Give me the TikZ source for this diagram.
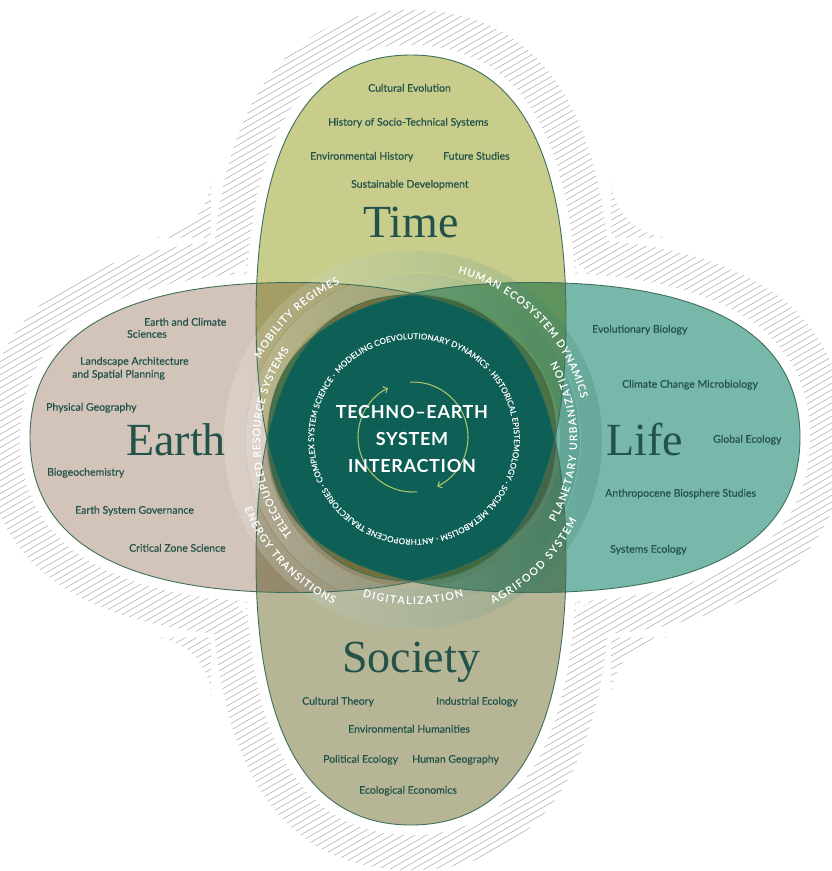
\documentclass[tikz,border=0pt]{standalone}
\usepackage{fontspec}
\setmainfont{Lato}
\newfontfamily\lblfont{Lato}[FakeBold=0.5]
\newfontfamily\ringfam{Lato}[FakeBold=0.4]
\newfontfamily\bigserif{Liberation Serif}
\usetikzlibrary{decorations.text,arrows.meta}
\definecolor{timec}{HTML}{C8CD8C}
\definecolor{earthc}{HTML}{D2C4B9}
\definecolor{lifec}{HTML}{78B8AA}
\definecolor{socc}{HTML}{B6B696}
\definecolor{corec}{HTML}{0E5F56}
\definecolor{linec}{HTML}{3F6F5A}
\definecolor{txtc}{HTML}{22524A}
\definecolor{hatchc}{HTML}{A8A8A8}
\definecolor{ringg}{HTML}{1E6B5A}
\definecolor{arrowc}{HTML}{A9C36A}
% superellipse-like closed curve: cx, cy, a, b, k (counterclockwise)
\newcommand\sqe[5]{({(#1)+(#3)},{#2}) .. controls ({(#1)+(#3)},{(#2)+(#5)*(#4)}) and ({(#1)+(#5)*(#3)},{(#2)+(#4)}) .. ({#1},{(#2)+(#4)}) .. controls ({(#1)-(#5)*(#3)},{(#2)+(#4)}) and ({(#1)-(#3)},{(#2)+(#5)*(#4)}) .. ({(#1)-(#3)},{#2}) .. controls ({(#1)-(#3)},{(#2)-(#5)*(#4)}) and ({(#1)-(#5)*(#3)},{(#2)-(#4)}) .. ({#1},{(#2)-(#4)}) .. controls ({(#1)+(#5)*(#3)},{(#2)-(#4)}) and ({(#1)+(#3)},{(#2)-(#5)*(#4)}) .. ({(#1)+(#3)},{#2}) -- cycle}
\newcommand\fillTL[3]{({#1},{#2}) -- ({#1},{(#2)+(#3)}) .. controls ({#1},{(#2)+0.448*(#3)}) and ({(#1)-0.448*(#3)},{#2}) .. ({(#1)-(#3)},{#2}) -- cycle}
\newcommand\fillTR[3]{({#1},{#2}) -- ({(#1)+(#3)},{#2}) .. controls ({(#1)+0.448*(#3)},{#2}) and ({#1},{(#2)+0.448*(#3)}) .. ({#1},{(#2)+(#3)}) -- cycle}
\newcommand\fillBL[3]{({#1},{#2}) -- ({(#1)-(#3)},{#2}) .. controls ({(#1)-0.448*(#3)},{#2}) and ({#1},{(#2)-0.448*(#3)}) .. ({#1},{(#2)-(#3)}) -- cycle}
\newcommand\fillBR[3]{({#1},{#2}) -- ({#1},{(#2)-(#3)}) .. controls ({#1},{(#2)-0.448*(#3)}) and ({(#1)+0.448*(#3)},{#2}) .. ({(#1)+(#3)},{#2}) -- cycle}
\newcommand\kk{0.66}
\newcommand\timeP[1]{\sqe{411}{-318}{155+#1}{263+#1}{\kk}}
\newcommand\socP[1]{\sqe{411}{-560}{155+#1}{265+#1}{\kk}}
\newcommand\earthP[1]{\sqe{293}{-437.5}{263+#1}{155+#1}{\kk}}
\newcommand\lifeP[1]{\sqe{534}{-437.5}{266+#1}{155+#1}{\kk}}
\newcommand\ringfont{\ringfam\fontsize{10.4}{12}\selectfont}
\newcommand\innerfont{\ringfam\fontsize{8}{10}\selectfont}
\tikzset{
  lbl/.style={font=\lblfont\fontsize{10.5}{12}\selectfont, text=txtc, inner sep=0pt, anchor=base west},
  big/.style={font=\bigserif\fontsize{46}{50}\selectfont, text=txtc, inner sep=0pt, anchor=base},
  coretxt/.style={font=\bfseries\fontsize{18}{20}\selectfont\addfontfeature{LetterSpace=4}, text=white, inner sep=0pt, anchor=base},
  shp/.style={line width=0.9pt, draw=linec},
  rtxt/.style={decorate, decoration={text along path, text={|\ringfont|#1}, text align=fit to path, text color=white}},
  itxt/.style={decorate, decoration={text along path, text={|\innerfont|#1}, text align=fit to path, text color=white}},
  cyc/.style={draw=arrowc, line width=1.1pt, -{Straight Barb[length=3.5pt,width=7pt]}}
}
\begin{document}
\begin{tikzpicture}[x=1pt,y=1pt]
\useasboundingbox (0,0) rectangle (832,-871);
% hatched halo
\begin{scope}
  \clip \timeP{45} \socP{45} \earthP{45} \lifeP{45}
        \fillTL{211}{-237.5}{60} \fillTR{611}{-237.5}{60}
        \fillBL{211}{-637.5}{60} \fillBR{611}{-637.5}{60};
  \foreach \c in {-1365,-1358.4,...,10} {
    \draw[hatchc, line width=0.5pt] (0,\c) -- (832,{\c+480.4});
  }
\end{scope}
\fill[white] \timeP{10} \socP{10} \earthP{10} \lifeP{10}
      \fillTL{246}{-272.5}{18} \fillTR{576}{-272.5}{18}
      \fillBL{246}{-602.5}{18} \fillBR{576}{-602.5}{18};
% four domains
\fill[earthc, blend mode=multiply] \earthP{0};
\fill[lifec, blend mode=multiply] \lifeP{0};
\fill[timec, blend mode=multiply] \timeP{0};
\fill[socc, blend mode=multiply] \socP{0};
% core
\begin{scope}
  \clip \timeP{0}; \clip \socP{0}; \clip \earthP{0}; \clip \lifeP{0};
  \fill[corec] (200,-200) rectangle (650,-700);
\end{scope}
% ring bands
\shade[left color=white, right color=ringg, opacity=0.20, even odd rule]
  (413,-440) circle[radius=189] (413,-440) circle[radius=168];
\shade[left color=white, right color=ringg, opacity=0.26, even odd rule]
  (413,-440) circle[radius=167] (413,-440) circle[radius=147];
% outlines
\draw[shp] \earthP{0};
\draw[shp] \lifeP{0};
\draw[shp] \timeP{0};
\draw[shp] \socP{0};
% ring texts
\path[rtxt={MOBILITY REGIMES}] (413,-440) ++(152:173) arc[start angle=152, end angle=115, radius=173];
\path[rtxt={HUMAN ECOSYSTEM DYNAMICS}] (413,-440) ++(75:173) arc[start angle=75, end angle=14, radius=173];
\path[rtxt={ENERGY TRANSITIONS}] (413,-440) ++(202:182) arc[start angle=202, end angle=244, radius=182];
\path[rtxt={AGRIFOOD SYSTEM}] (413,-440) ++(296:182) arc[start angle=296, end angle=334, radius=182];
\path[rtxt={TELECOUPLED RESOURCE SYSTEMS}] (413,-440) ++(218:153) arc[start angle=218, end angle=144, radius=153];
\path[rtxt={PLANETARY URBANIZATION}] (413,-440) ++(-30:164) arc[start angle=-30, end angle=29, radius=164];
\path[rtxt={DIGITALIZATION}] (413,-440) ++(252:164) arc[start angle=252, end angle=288, radius=164];
% inner circular text
\path[itxt={MODELING COEVOLUTIONARY DYNAMICS · HISTORICAL EPISTEMOLOGY · SOCIAL METABOLISM · ANTHROPOCENE TRAJECTORIES · COMPLEX SYSTEM SCIENCE ·}]
  (414,-439) ++(139:100) arc[start angle=139, end angle=-219, radius=100];
% cycle arrows
\draw[cyc] (413,-437) ++(93:55) arc[start angle=93, end angle=-64, radius=55];
\draw[cyc] (413,-437) ++(-86:55) arc[start angle=-86, end angle=-243, radius=55];
\node[coretxt] (c1) at (412,-418) {TECHNO–EARTH};
\node[coretxt] (c2) at (412,-445) {SYSTEM};
\node[coretxt] (c3) at (412,-472) {INTERACTION};
% big labels
\node[big] (time) at (411,-237) {Time};
\node[big] (earth) at (176,-455) {Earth};
\node[big] (life) at (645,-455) {Life};
\node[big] (society) at (411,-672) {Society};
% Time labels
\node[lbl] (t1) at (368,-91.7) {Cultural Evolution};
\node[lbl] (t2) at (328,-125.7) {History of Socio-Technical Systems};
\node[lbl] (t3) at (310,-159.7) {Environmental History};
\node[lbl] (t4) at (443,-159.7) {Future Studies};
\node[lbl] (t5) at (351,-187.7) {Sustainable Development};
% Earth labels
\node[lbl] (e1) at (144,-325.7) {Earth and Climate};
\node[lbl] (e1b) at (127,-337.7) {Sciences};
\node[lbl] (e2) at (80,-364.7) {Landscape Architecture};
\node[lbl] (e2b) at (72,-377.7) {and Spatial Planning};
\node[lbl] (e3) at (46,-410.7) {Physical Geography};
\node[lbl] (e4) at (47,-475.7) {Biogeochemistry};
\node[lbl] (e5) at (75,-513.7) {Earth System Governance};
\node[lbl] (e6) at (129,-551.7) {Critical Zone Science};
% Life labels
\node[lbl] (l1) at (592,-332.7) {Evolutionary Biology};
\node[lbl] (l2) at (622,-387.7) {Climate Change Microbiology};
\node[lbl] (l3) at (713,-442.7) {Global Ecology};
\node[lbl] (l4) at (605,-496.7) {Anthropocene Biosphere Studies};
\node[lbl] (l5) at (610,-552.7) {Systems Ecology};
% Society labels
\node[lbl] (s1) at (302,-704.7) {Cultural Theory};
\node[lbl] (s2) at (436,-704.7) {Industrial Ecology};
\node[lbl] (s3) at (348,-732.7) {Environmental Humanities};
\node[lbl] (s4) at (323,-762.7) {Political Ecology};
\node[lbl] (s5) at (412,-762.7) {Human Geography};
\node[lbl] (s6) at (359,-793.7) {Ecological Economics};
\end{tikzpicture}
\end{document}
